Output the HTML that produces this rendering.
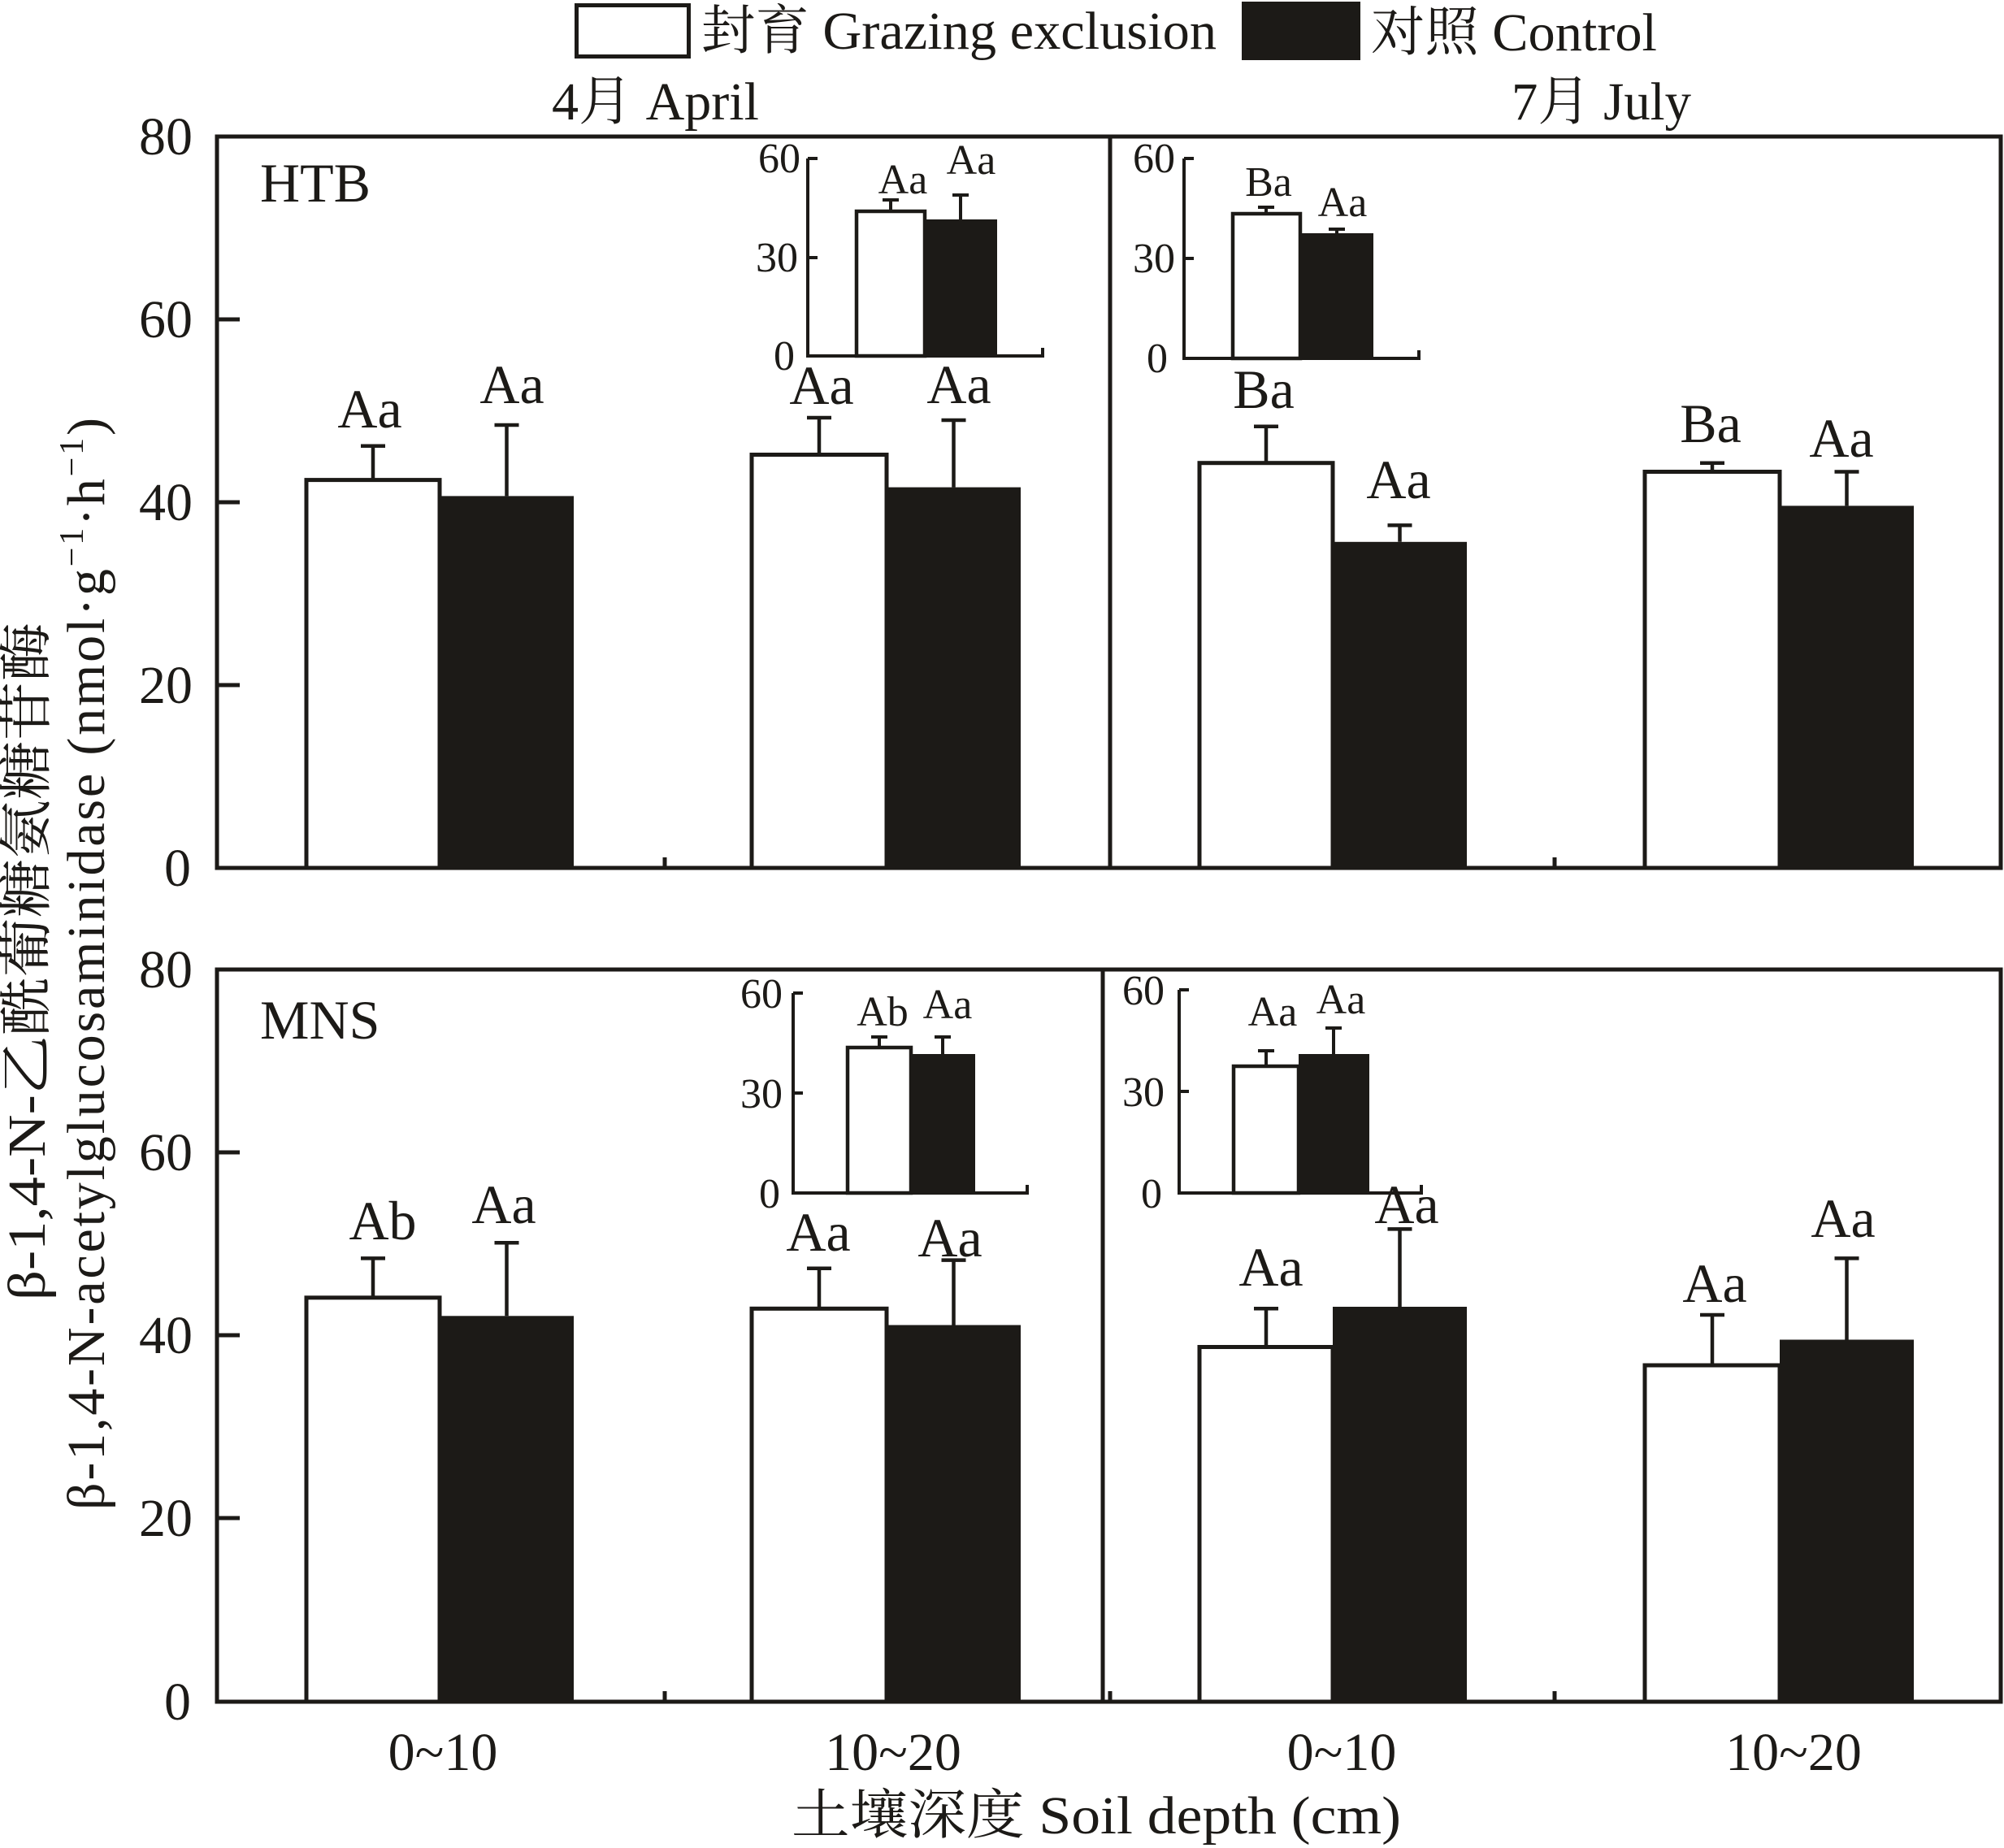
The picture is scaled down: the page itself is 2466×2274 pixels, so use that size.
<!DOCTYPE html>
<html>
<head>
<meta charset="utf-8">
<style>
  html, body { margin: 0; padding: 0; background: #ffffff; }
  svg { display: block; }
  text { font-family: "Liberation Serif", "Noto Serif CJK SC", serif; fill: #1c1a17; }
</style>
</head>
<body>
<svg width="2466" height="2274" viewBox="0 0 2466 2274" xmlns="http://www.w3.org/2000/svg">
  <rect x="0" y="0" width="2466" height="2274" fill="#ffffff"/>

  <!-- Legend -->
  <rect x="709.5" y="6.5" width="138" height="63" fill="#ffffff" stroke="#1c1a17" stroke-width="5"/>
  <text x="863" y="60" font-size="66" textLength="634" lengthAdjust="spacingAndGlyphs">封育 Grazing exclusion</text>
  <rect x="1528" y="2" width="146" height="72" fill="#1c1a17"/>
  <text x="1687" y="62" font-size="66" textLength="352" lengthAdjust="spacingAndGlyphs">对照 Control</text>

  <!-- Month titles -->
  <text x="679" y="147" font-size="66" textLength="255" lengthAdjust="spacingAndGlyphs">4月 April</text>
  <text x="1860" y="147" font-size="66" textLength="221" lengthAdjust="spacingAndGlyphs">7月 July</text>

  <!-- Y axis titles -->
  <text transform="translate(55,1600) rotate(-90)" font-size="66" textLength="834" lengthAdjust="spacingAndGlyphs">β-1,4-N-乙酰葡糖氨糖苷酶</text>
  <text transform="translate(128,1858) rotate(-90)" font-size="66" textLength="1344" lengthAdjust="spacing">β-1,4-N-acetylglucosaminidase (nmol·g<tspan font-size="42" dy="-26">−1</tspan><tspan dy="26">·h</tspan><tspan font-size="42" dy="-26">−1</tspan><tspan dy="26">)</tspan></text>

  <!-- Y tick labels -->
  <g font-size="66" text-anchor="end">
    <text x="237" y="190">80</text>
    <text x="237" y="415">60</text>
    <text x="237" y="640">40</text>
    <text x="237" y="865">20</text>
    <text x="235" y="1090">0</text>
    <text x="237" y="1215">80</text>
    <text x="237" y="1440">60</text>
    <text x="237" y="1665">40</text>
    <text x="237" y="1890">20</text>
    <text x="235" y="2116">0</text>
  </g>

  <!-- X tick labels -->
  <g font-size="66" text-anchor="middle">
    <text x="545" y="2178">0~10</text>
    <text x="1099" y="2178">10~20</text>
    <text x="1651" y="2178">0~10</text>
    <text x="2207" y="2178">10~20</text>
  </g>
  <text x="974" y="2256" font-size="66" textLength="750" lengthAdjust="spacingAndGlyphs">土壤深度 Soil depth (cm)</text>

  <!-- ============ TOP PANEL ============ -->
  <g fill="#ffffff" stroke="#1c1a17" stroke-width="5">
    <rect x="377" y="590.6" width="164" height="477.4"/>
    <rect x="925" y="559.5" width="166" height="508.5"/>
    <rect x="1476" y="569.7" width="164" height="498.3"/>
    <rect x="2024" y="580.5" width="166" height="487.5"/>
  </g>
  <g fill="#1c1a17">
    <rect x="541" y="610.4" width="165" height="457.6"/>
    <rect x="1091" y="599.6" width="165" height="468.4"/>
    <rect x="1640" y="666.8" width="165" height="401.2"/>
    <rect x="2190" y="622.4" width="165" height="445.6"/>
  </g>
  <g stroke="#1c1a17" stroke-width="4.5" fill="none">
    <path d="M459,590.6 V548.7 M444,548.7 H474"/>
    <path d="M623.5,610.4 V523 M608.5,523 H638.5"/>
    <path d="M1008,559.5 V514 M993,514 H1023"/>
    <path d="M1173.5,599.6 V517 M1158.5,517 H1188.5"/>
    <path d="M1558,569.7 V524.7 M1543,524.7 H1573"/>
    <path d="M1722.5,666.8 V646.4 M1707.5,646.4 H1737.5"/>
    <path d="M2107,580.5 V569.7 M2092,569.7 H2122"/>
    <path d="M2272.5,622.4 V580.5 M2257.5,580.5 H2287.5"/>
  </g>
  <g font-size="68" text-anchor="middle">
    <text x="455" y="526">Aa</text>
    <text x="630" y="496">Aa</text>
    <text x="1011" y="497">Aa</text>
    <text x="1180" y="496">Aa</text>
    <text x="1555" y="502">Ba</text>
    <text x="1721" y="613">Aa</text>
    <text x="2105" y="544">Ba</text>
    <text x="2266" y="562">Aa</text>
  </g>
  <text x="320" y="248" font-size="68">HTB</text>

  <!-- Frame top -->
  <g stroke="#1c1a17" stroke-width="5" fill="none">
    <rect x="267" y="168" width="2195" height="900"/>
    <path d="M1366,168 V1068"/>
    <path d="M267,393 H295 M267,618 H295 M267,843 H295"/>
    <path d="M818,1068 V1055 M1913,1068 V1055"/>
  </g>

  <!-- Inset top April -->
  <rect x="1054" y="260" width="84" height="178" fill="#ffffff" stroke="#1c1a17" stroke-width="4.5"/>
  <rect x="1138" y="270" width="89" height="168" fill="#1c1a17"/>
  <g stroke="#1c1a17" stroke-width="4" fill="none">
    <path d="M994,195 V438 H1283 V428"/>
    <path d="M994,195 H1006 M994,317 H1006"/>
    <path d="M1096,260 V246 M1086,246 H1106"/>
    <path d="M1182,270 V240 M1172,240 H1192"/>
  </g>
  <g font-size="52" text-anchor="end">
    <text x="985" y="212">60</text>
    <text x="982" y="334">30</text>
    <text x="978" y="455">0</text>
  </g>
  <g font-size="52" text-anchor="middle">
    <text x="1111" y="238">Aa</text>
    <text x="1195" y="214">Aa</text>
  </g>

  <!-- Inset top July -->
  <rect x="1517" y="263" width="83" height="178" fill="#ffffff" stroke="#1c1a17" stroke-width="4.5"/>
  <rect x="1600" y="287" width="90" height="154" fill="#1c1a17"/>
  <g stroke="#1c1a17" stroke-width="4" fill="none">
    <path d="M1457,195 V441 H1746 V431"/>
    <path d="M1457,195 H1469 M1457,318 H1469"/>
    <path d="M1558,263 V255 M1548,255 H1568"/>
    <path d="M1645,287 V282 M1635,282 H1655"/>
  </g>
  <g font-size="52" text-anchor="end">
    <text x="1446" y="212">60</text>
    <text x="1446" y="335">30</text>
    <text x="1437" y="458">0</text>
  </g>
  <g font-size="52" text-anchor="middle">
    <text x="1561" y="241">Ba</text>
    <text x="1652" y="266">Aa</text>
  </g>

  <!-- ============ BOTTOM PANEL ============ -->
  <g fill="#ffffff" stroke="#1c1a17" stroke-width="5">
    <rect x="377" y="1596.8" width="164" height="497.2"/>
    <rect x="925" y="1610.3" width="166" height="483.7"/>
    <rect x="1476" y="1657.5" width="164" height="436.5"/>
    <rect x="2024" y="1680" width="166" height="414"/>
  </g>
  <g fill="#1c1a17">
    <rect x="541" y="1619.3" width="165" height="474.7"/>
    <rect x="1091" y="1630.5" width="165" height="463.5"/>
    <rect x="1640" y="1608" width="165" height="486"/>
    <rect x="2190" y="1648.5" width="165" height="445.5"/>
  </g>
  <g stroke="#1c1a17" stroke-width="4.5" fill="none">
    <path d="M459,1596.8 V1548.4 M444,1548.4 H474"/>
    <path d="M623.5,1619.3 V1529.3 M608.5,1529.3 H638.5"/>
    <path d="M1008,1610.3 V1560.8 M993,1560.8 H1023"/>
    <path d="M1173.5,1630.5 V1550.6 M1158.5,1550.6 H1188.5"/>
    <path d="M1558,1657.5 V1610.3 M1543,1610.3 H1573"/>
    <path d="M1722.5,1608 V1512.4 M1707.5,1512.4 H1737.5"/>
    <path d="M2107,1680 V1618 M2092,1618 H2122"/>
    <path d="M2272.5,1648.5 V1548.4 M2257.5,1548.4 H2287.5"/>
  </g>
  <g font-size="68" text-anchor="middle">
    <text x="471" y="1525">Ab</text>
    <text x="620" y="1505">Aa</text>
    <text x="1007" y="1539">Aa</text>
    <text x="1169" y="1546">Aa</text>
    <text x="1564" y="1582">Aa</text>
    <text x="1731" y="1505">Aa</text>
    <text x="2110" y="1602">Aa</text>
    <text x="2268" y="1522">Aa</text>
  </g>
  <text x="320" y="1278" font-size="68">MNS</text>

  <!-- Frame bottom -->
  <g stroke="#1c1a17" stroke-width="5" fill="none">
    <rect x="267" y="1193" width="2195" height="901"/>
    <path d="M1357,1193 V2094"/>
    <path d="M267,1418 H295 M267,1643 H295 M267,1868 H295"/>
    <path d="M818,2094 V2081 M1366,2094 V2081 M1913,2094 V2081"/>
  </g>

  <!-- Inset bottom April -->
  <rect x="1043" y="1289" width="78" height="179" fill="#ffffff" stroke="#1c1a17" stroke-width="4.5"/>
  <rect x="1121" y="1297" width="79" height="171" fill="#1c1a17"/>
  <g stroke="#1c1a17" stroke-width="4" fill="none">
    <path d="M976,1222 V1468 H1264 V1458"/>
    <path d="M976,1222 H988 M976,1345 H988"/>
    <path d="M1082,1289 V1276 M1072,1276 H1092"/>
    <path d="M1160,1297 V1276 M1150,1276 H1170"/>
  </g>
  <g font-size="52" text-anchor="end">
    <text x="963" y="1240">60</text>
    <text x="963" y="1363">30</text>
    <text x="960" y="1486">0</text>
  </g>
  <g font-size="52" text-anchor="middle">
    <text x="1086" y="1262">Ab</text>
    <text x="1166" y="1253">Aa</text>
  </g>

  <!-- Inset bottom July -->
  <rect x="1518" y="1312" width="80" height="156" fill="#ffffff" stroke="#1c1a17" stroke-width="4.5"/>
  <rect x="1598" y="1297" width="87" height="171" fill="#1c1a17"/>
  <g stroke="#1c1a17" stroke-width="4" fill="none">
    <path d="M1451,1218 V1468 H1749 V1458"/>
    <path d="M1451,1218 H1463 M1451,1343 H1463"/>
    <path d="M1558,1312 V1293 M1548,1293 H1568"/>
    <path d="M1641,1297 V1265 M1631,1265 H1651"/>
  </g>
  <g font-size="52" text-anchor="end">
    <text x="1433" y="1236">60</text>
    <text x="1433" y="1361">30</text>
    <text x="1430" y="1486">0</text>
  </g>
  <g font-size="52" text-anchor="middle">
    <text x="1566" y="1262">Aa</text>
    <text x="1650" y="1247">Aa</text>
  </g>
</svg>
</body>
</html>
